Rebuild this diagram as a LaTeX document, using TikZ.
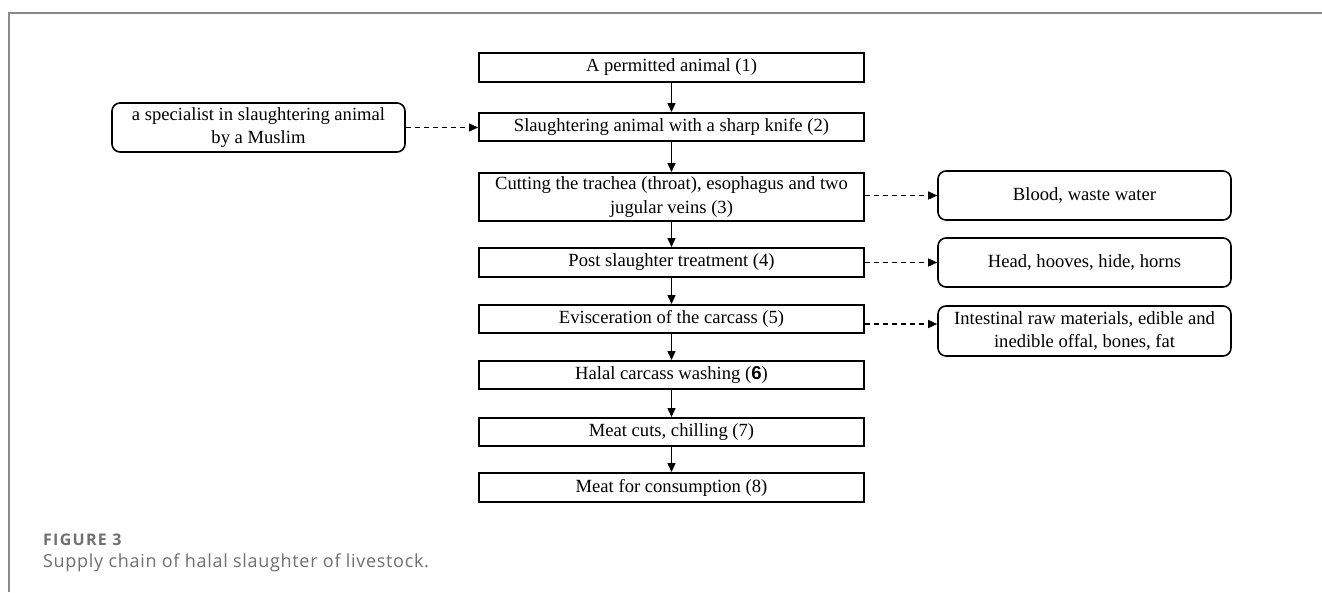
\documentclass[tikz,border=0pt]{standalone}
\usepackage{fontspec}
\setmainfont{Liberation Serif}
\newfontfamily\capfont[LetterSpace=3.8]{Open Sans}
\newfontfamily\figfont[LetterSpace=8]{Open Sans}
\newfontfamily\arialfont{Liberation Sans}
\usetikzlibrary{arrows.meta}
\definecolor{framegray}{HTML}{8A8A8A}
\definecolor{capgray}{HTML}{707070}
\tikzset{
  stepbox/.style={draw, line width=2pt, minimum width=385pt, inner sep=0pt, align=center, font=\fontsize{18.6}{23.5}\selectfont},
  sidebox/.style={draw, line width=1.6pt, rounded corners=8pt, minimum width=293pt, minimum height=49pt, inner sep=0pt, align=center, font=\fontsize{18.6}{23.5}\selectfont},
  flow/.style={line width=1.5pt, -{Triangle[length=9pt,width=8pt]}},
  dflow/.style={line width=1.5pt, dash pattern=on 5pt off 4pt, -{Triangle[length=9pt,width=8pt]}}
}
\begin{document}
\begin{tikzpicture}[x=1pt,y=-1pt]
\useasboundingbox (0,0) rectangle (1322,592);
\fill[white] (0,0) rectangle (1322,592);
% frame
\draw[framegray, line width=1.5pt] (9,592) -- (9,13) -- (1322,13);
% main chain
\node[stepbox, minimum height=29pt] (b1) at (671.5,67.5) {A permitted animal (1)};
\node[stepbox, minimum height=28pt] (b2) at (671.5,127) {Slaughtering animal with a sharp knife (2)};
\node[stepbox, minimum height=48pt] (b3) at (671.5,197) {Cutting the trachea (throat), esophagus and two\\jugular veins (3)};
\node[stepbox, minimum height=29pt] (b4) at (671.5,262.5) {Post slaughter treatment (4)};
\node[stepbox, minimum height=28pt] (b5) at (671.5,319) {Evisceration of the carcass (5)};
\node[stepbox, minimum height=28pt] (b6) at (671.5,375) {Halal carcass washing ({\arialfont\bfseries 6})};
\node[stepbox, minimum height=28pt] (b7) at (671.5,432) {Meat cuts, chilling (7)};
\node[stepbox, minimum height=29pt] (b8) at (671.5,487.5) {Meat for consumption (8)};
% side boxes
\node[sidebox] (spec) at (258.5,127.5) {a specialist in slaughtering animal\\by a Muslim};
\node[sidebox] (ra) at (1084.5,195.5) {Blood, waste water};
\node[sidebox] (rb) at (1084.5,262.5) {Head, hooves, hide, horns};
\node[sidebox, minimum height=50pt] (rc) at (1084.5,331) {Intestinal raw materials, edible and\\inedible offal, bones, fat};
% arrows
\draw[flow] (b1) -- (b2);
\draw[flow] (b2) -- (b3);
\draw[flow] (b3) -- (b4);
\draw[flow] (b4) -- (b5);
\draw[flow] (b5) -- (b6);
\draw[flow] (b6) -- (b7);
\draw[flow] (b7) -- (b8);
\draw[dflow] (spec.east) -- (b2.west |- spec.east);
\draw[dflow] (b3.east |- ra.west) -- (ra.west);
\draw[dflow] (b4.east) -- (rb.west |- b4.east);
\coordinate (c5) at ([yshift=-5pt]b5.east);
\draw[dflow] (c5) -- (rc.west |- c5);
% caption
\node[anchor=base west, inner sep=0pt, text=capgray, font=\figfont\bfseries\fontsize{16}{18}\selectfont] (figlab) at (43,545) {FIGURE 3};
\node[anchor=base west, inner sep=0pt, text=capgray, font=\capfont\fontsize{18}{20}\selectfont] (caption) at (43,567) {Supply chain of halal slaughter of livestock.};
\end{tikzpicture}
\end{document}
